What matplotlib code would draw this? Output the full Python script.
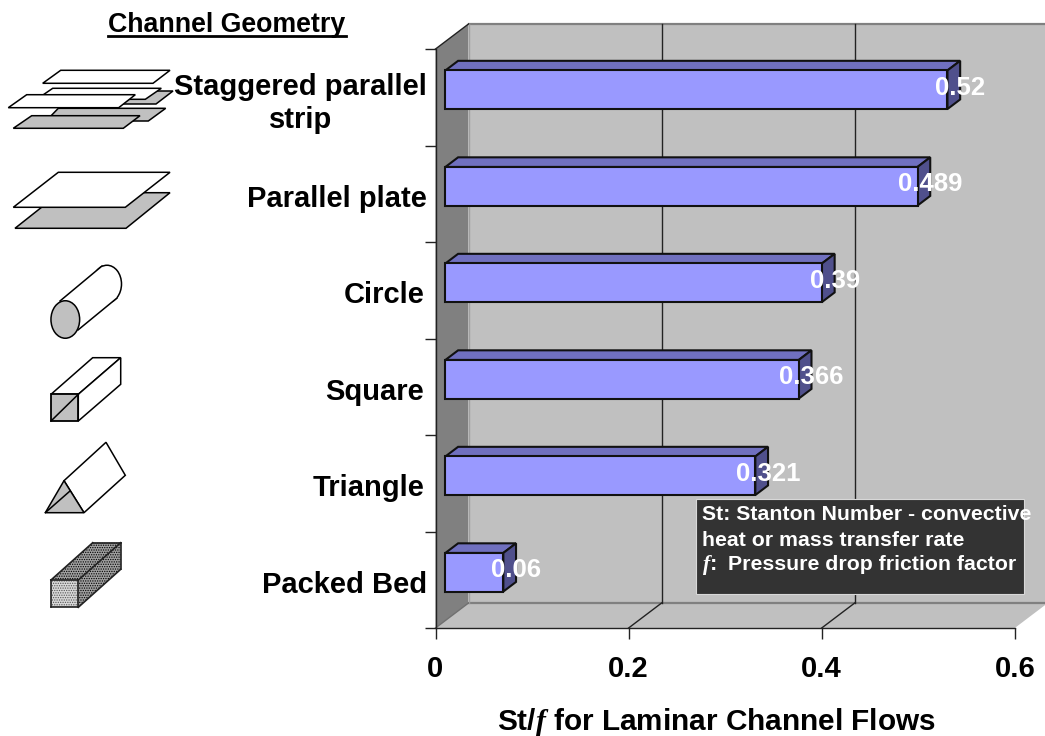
import matplotlib
matplotlib.use('Agg')
import matplotlib.pyplot as plt
from matplotlib.patches import Polygon, Ellipse, Rectangle
from matplotlib.transforms import ScaledTranslation

plt.rcParams['font.family'] = ['Liberation Sans', 'DejaVu Sans']
plt.rcParams['font.weight'] = 'bold'
plt.rcParams['mathtext.fontset'] = 'custom'
plt.rcParams['mathtext.it'] = 'Liberation Serif:italic:bold'
plt.rcParams['hatch.linewidth'] = 0.6

categories = ['Packed Bed', 'Triangle', 'Square', 'Circle', 'Parallel plate',
              'Staggered parallel\nstrip']
values = [0.06, 0.321, 0.366, 0.39, 0.489, 0.52]
value_labels = ['0.06', '0.321', '0.366', '0.39', '0.489', '0.52']
x_ticks = [0, 0.2, 0.4, 0.6]
x_tick_labels = ['0', '0.2', '0.4', '0.6']

# 3d look: how far the back wall is pushed, in data units
depth_x = 33 / 965.5
depth_y = 25 / 96.5
bar_front = 0.3
bar_back = 0.685
bar_h = 0.4

fig = plt.figure(figsize=(10.45, 7.36), dpi=100, facecolor='white')
ax = fig.add_axes([435.5 / 1045, 108 / 736, 579.3 / 1045, 579 / 736])
ax.patch.set_alpha(0)
ax.set_xlim(0, 0.6)
ax.set_ylim(-0.5, 5.5)

x0, x1 = ax.get_xlim()
y0, y1 = ax.get_ylim()

# walls and floor
ax.add_patch(Polygon([(x0 + depth_x, y0 + depth_y), (x1 + depth_x, y0 + depth_y),
                      (x1 + depth_x, y1 + depth_y), (x0 + depth_x, y1 + depth_y)],
                     fc='#c0c0c0', ec='none', clip_on=False, zorder=0))
ax.add_patch(Polygon([(x0, y0), (x1, y0), (x1 + depth_x, y0 + depth_y), (x0 + depth_x, y0 + depth_y)],
                     fc='#c0c0c0', ec='none', clip_on=False, zorder=0.1))
ax.add_patch(Polygon([(x0, y0), (x0 + depth_x, y0 + depth_y), (x0 + depth_x, y1 + depth_y), (x0, y1)],
                     fc='#808080', ec='none', clip_on=False, zorder=0.1))
ax.plot([x0 + depth_x, x1 + depth_x], [y0 + depth_y] * 2, color='#808080', lw=1.6,
        clip_on=False, zorder=0.2)
ax.plot([x0 + depth_x, x1 + depth_x], [y1 + depth_y] * 2, color='#808080', lw=1.6,
        clip_on=False, zorder=0.2)
ax.plot([x0 + depth_x] * 2, [y0 + depth_y, y1 + depth_y], color='#a0a0a0', lw=1,
        clip_on=False, zorder=0.2)
ax.plot([x0, x0 + depth_x], [y1, y1 + depth_y], color='#222222', lw=1, clip_on=False, zorder=0.3)
ax.plot([x0, x0 + depth_x], [y0, y0 + depth_y], color='#707070', lw=1, clip_on=False, zorder=0.3)

# grid on the back wall and floor
for t in x_ticks[1:3]:
    ax.plot([t + depth_x, t + depth_x], [y0 + depth_y, y1 + depth_y], color='#222222', lw=1,
            clip_on=False, zorder=0.4)
    ax.plot([t, t + depth_x], [y0, y0 + depth_y], color='#222222', lw=1, clip_on=False, zorder=0.4)

# bars
pos = list(range(len(categories)))
front_x = bar_front * depth_x
front_y = bar_front * depth_y
d_x = (bar_back - bar_front) * depth_x
d_y = (bar_back - bar_front) * depth_y
for p, v, lab in zip(pos, values, value_labels):
    yc = p + front_y
    top = yc + bar_h / 2
    bot = yc - bar_h / 2
    right = front_x + v
    ax.add_patch(Polygon([(front_x, top), (right, top), (right + d_x, top + d_y), (front_x + d_x, top + d_y)],
                         fc='#7070bf', ec='#111111', lw=1.5, clip_on=False, zorder=1))
    ax.add_patch(Polygon([(right, bot), (right, top), (right + d_x, top + d_y), (right + d_x, bot + d_y)],
                         fc='#50508c', ec='#111111', lw=1.5, clip_on=False, zorder=1))
ax.barh([p + front_y for p in pos], values, left=front_x, height=bar_h, color='#9999ff',
        edgecolor='#111111', linewidth=1.5, zorder=2, clip_on=False)
for p, v, lab in zip(pos, values, value_labels):
    ax.text(front_x + v + d_x, p + front_y + 0.02, lab, color='white', fontsize=18.5,
            ha='center', va='center', zorder=6)

# axes
for s in ['top', 'right']:
    ax.spines[s].set_visible(False)
for s in ['left', 'bottom']:
    ax.spines[s].set_color('#222222')
    ax.spines[s].set_linewidth(1)
ax.set_xticks(x_ticks)
ax.set_xticklabels(x_tick_labels, fontsize=21)
ax.tick_params(axis='x', length=8, width=1, color='#222222', pad=11.7)
ax.set_yticks(pos)
ax.set_yticklabels(categories, fontsize=21, multialignment='center')
ax.tick_params(axis='y', which='major', length=0, pad=6)
ax.set_yticks([p + 0.5 for p in [-1] + pos], minor=True)
ax.tick_params(axis='y', which='minor', length=8, width=1, color='#222222')
for tl in ax.get_yticklabels():
    name = tl.get_text()
    dx_px = -3 if name in ('Circle', 'Square', 'Triangle') else 0
    dy_px = -1 if name.startswith('Staggered') else -2
    shift = ScaledTranslation(dx_px / 100, dy_px / 100, fig.dpi_scale_trans)
    tl.set_transform(tl.get_transform() + shift)
ax.set_xlabel('St/$f$ for Laminar Channel Flows', fontsize=21.4, fontweight='bold')
ax.xaxis.set_label_coords((716 - 435.5) / 579.3, -0.134)

# overlay in pixel coordinates for the note box and channel sketches
ov = fig.add_axes([0, 0, 1, 1], zorder=5)
ov.set_xlim(0, 1045)
ov.set_ylim(736, 0)
ov.axis('off')

ov.text(227, 25.5, 'Channel Geometry', fontsize=19.3, ha='center', va='center')
ov.plot([108, 346], [35.5, 35.5], color='black', lw=2)

ov.add_patch(Rectangle((696, 498.5), 328, 95.5, fc='#333333', ec='#d8d8d8', lw=0.8))
ov.text(702, 515, 'St: Stanton Number - convective', color='white', fontsize=15.35, va='center')
ov.text(702, 540, 'heat or mass transfer rate', color='white', fontsize=15.35, va='center')
ov.text(702, 565, '$f$:', color='white', fontsize=15.5, va='center')
ov.text(728, 565, 'Pressure drop friction factor', color='white', fontsize=15.35, va='center')

# strips
strips = [
    ('white', [(60.7, 70.3), (170, 70.3), (153, 83.3), (42.7, 83.3)]),
    ('#c0c0c0', [(133, 91), (173, 91), (156, 104), (120, 104)]),
    ('white', [(52.7, 88.3), (161.3, 88.3), (145.3, 99.3), (36.7, 99.3)]),
    ('#c0c0c0', [(58.3, 108.3), (165.7, 108.3), (148.3, 121), (46, 121)]),
    ('white', [(26.7, 94.7), (135.3, 94.7), (118.7, 107.7), (8.3, 107.7)]),
    ('#c0c0c0', [(31.7, 115.7), (140, 115.7), (123.3, 128.3), (13.3, 128.3)]),
]
for col, pts in strips:
    ov.add_patch(Polygon(pts, fc=col, ec='black', lw=1.1))

# plates
ov.add_patch(Polygon([(60, 192.7), (170, 192.7), (126, 228.3), (15, 228.3)], fc='#c0c0c0', ec='black', lw=1.1))
ov.add_patch(Polygon([(58.3, 172.3), (170, 172.3), (125.3, 207.3), (13.3, 207.3)], fc='white', ec='black', lw=1.1))

# cylinder
ov.add_patch(Ellipse((107, 284), 29, 37.5, fc='white', ec='black', lw=1.1))
ov.add_patch(Polygon([(60, 301), (102, 266), (117, 298), (78, 330)], fc='white', ec='none'))
ov.plot([60, 102], [301, 266], color='black', lw=1.1)
ov.plot([78, 117], [330, 298], color='black', lw=1.1)
ov.add_patch(Ellipse((65.3, 319.5), 28.7, 37.5, fc='#c0c0c0', ec='black', lw=1.1))

# square duct
ov.add_patch(Polygon([(51, 394.3), (92.7, 357.7), (120.7, 357.7), (78.3, 394.3)], fc='white', ec='black', lw=1.1))
ov.add_patch(Polygon([(78.3, 394.3), (120.7, 357.7), (120.7, 384.3), (78.3, 421)], fc='white', ec='black', lw=1.1))
ov.add_patch(Rectangle((51, 394.3), 27.3, 26.7, fc='#c0c0c0', ec='black', lw=1.3))
ov.plot([51, 78.3], [421, 394.3], color='black', lw=1.1)

# triangle duct
ov.add_patch(Polygon([(64, 480.7), (106, 442.3), (125.3, 475.3), (84, 512.7)], fc='white', ec='black', lw=1.1))
ov.add_patch(Polygon([(64, 480.7), (45.3, 512.7), (84, 512.7)], fc='#c0c0c0', ec='black', lw=1.1))
ov.plot([45.3, 70], [512.7, 491], color='black', lw=1.1)

# packed bed
ov.add_patch(Polygon([(51, 580), (92.7, 542.7), (120.7, 542.7), (78.3, 580)], fc='#a0a0a0', ec='black',
                     hatch='.......', lw=0.01))
ov.add_patch(Polygon([(78.3, 580), (120.7, 542.7), (120.7, 569.3), (78.3, 607.3)], fc='#a0a0a0', ec='black',
                     hatch='.......', lw=0.01))
ov.add_patch(Rectangle((51, 580), 27.3, 27.3, fc='#d8d8d8', ec='#555555', hatch='.......', lw=0.01))
for a, b in [((51, 580), (92.7, 542.7)), ((92.7, 542.7), (120.7, 542.7)), ((120.7, 542.7), (120.7, 569.3)),
             ((120.7, 569.3), (78.3, 607.3)), ((78.3, 580), (120.7, 542.7)), ((51, 580), (78.3, 580)),
             ((78.3, 580), (78.3, 607.3)), ((78.3, 607.3), (51, 607.3)), ((51, 607.3), (51, 580))]:
    ov.plot([a[0], b[0]], [a[1], b[1]], color='#222222', lw=1.2)

fig.savefig('out.png', dpi=100)
